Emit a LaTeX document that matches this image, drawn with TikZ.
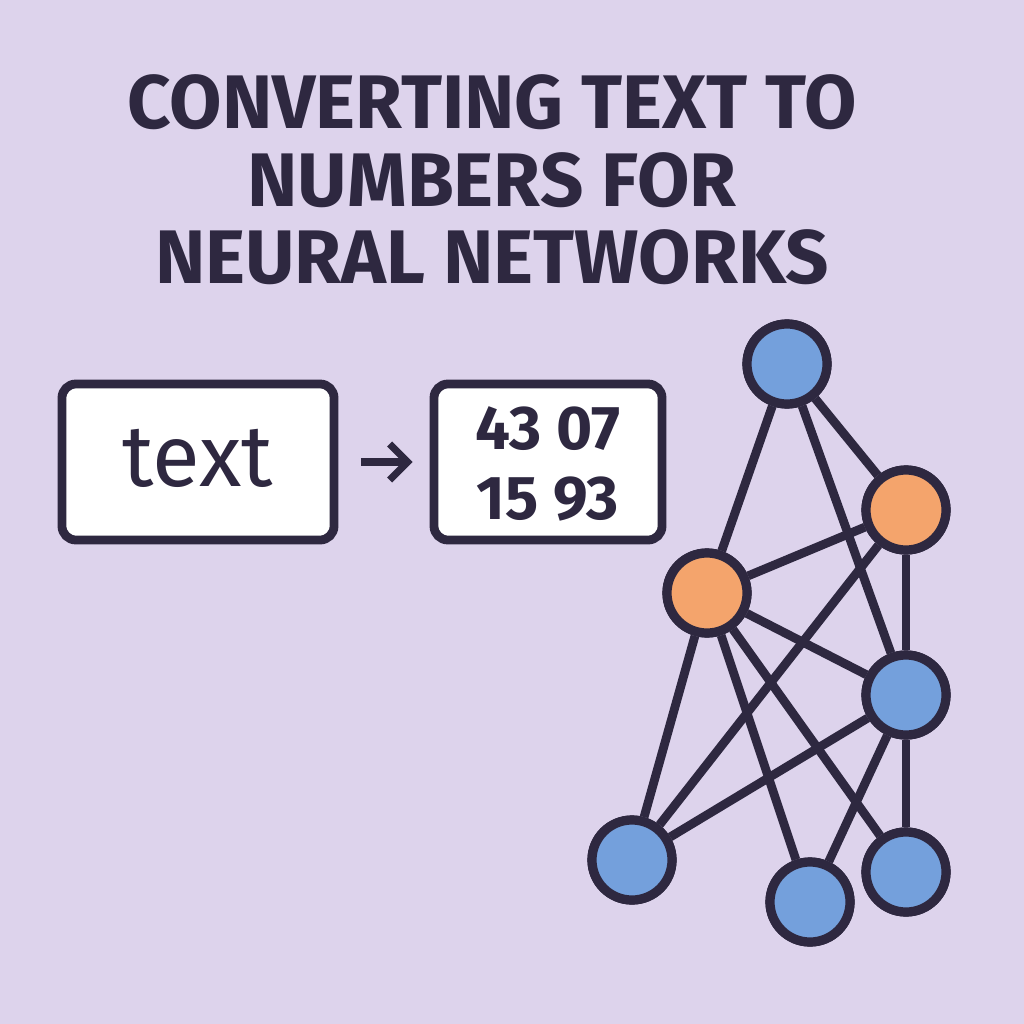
\documentclass[tikz,border=0pt]{standalone}
\usepackage{fontspec}
\setmainfont{Fira Sans}
\usetikzlibrary{arrows.meta}
\definecolor{bgcol}{HTML}{DDD3EC}
\definecolor{inkcol}{HTML}{2E2840}
\definecolor{bluecol}{HTML}{74A0DC}
\definecolor{orangecol}{HTML}{F4A46C}
\tikzset{
  unit/.style={circle, draw=inkcol, line width=2.3mm, minimum size=2.0cm, inner sep=0pt},
  inunit/.style={unit, fill=bluecol},
  hidunit/.style={unit, fill=orangecol},
  link/.style={draw=inkcol, line width=2.2mm},
  card/.style={draw=inkcol, fill=white, line width=2.2mm, rounded corners=0.35cm, inner sep=0pt}
}
\begin{document}
\begin{tikzpicture}[x=0.025cm, y=-0.025cm]
        \fill[bgcol] (0,0) rectangle (1024,1024);
        % title
        \node[inkcol, font=\fontsize{54}{55}\selectfont\bfseries, align=center] (title) at (492,180)
          {CONVERTING TEXT TO\\NUMBERS FOR\\NEURAL NETWORKS};
        % cards
        \node[card, minimum width=6.8cm, minimum height=3.9cm] (word) at (198,462) {};
        \node[inkcol, font=\fontsize{62}{62}\selectfont\mdseries, align=center] (wordtxt) at (198,458) {text};
        \node[card, minimum width=5.7cm, minimum height=3.9cm] (code) at (548,462) {};
        \node[inkcol, font=\fontsize{44}{50}\selectfont\bfseries, align=center] (codetxt) at (548,464) {43 07\\15 93};
        \draw[inkcol, line width=1.8mm, -{Straight Barb[length=4.5mm,width=9mm]}] ([xshift=16]word.east) -- ([xshift=-12]code.west);
        % network
        \node[inunit] (n1) at (787,364) {};
        \node[hidunit] (n2) at (906,510) {};
        \node[hidunit] (n3) at (707,593) {};
        \node[inunit] (n4) at (906,695) {};
        \node[inunit] (n5) at (632,860) {};
        \node[inunit] (n6) at (810,902) {};
        \node[inunit] (n7) at (906,872) {};
        \foreach \a/\b in {n1/n3, n1/n2, n1/n4, n2/n4, n3/n2, n3/n4, n3/n5, n3/n6, n3/n7, n2/n5, n4/n5, n4/n6, n4/n7}
          \path[link] (\a) -- (\b);
        % redraw units on top
        \node[inunit] at (n1) {};
        \node[hidunit] at (n2) {};
        \node[hidunit] at (n3) {};
        \node[inunit] at (n4) {};
        \node[inunit] at (n5) {};
        \node[inunit] at (n6) {};
        \node[inunit] at (n7) {};
      \end{tikzpicture}
\end{document}
